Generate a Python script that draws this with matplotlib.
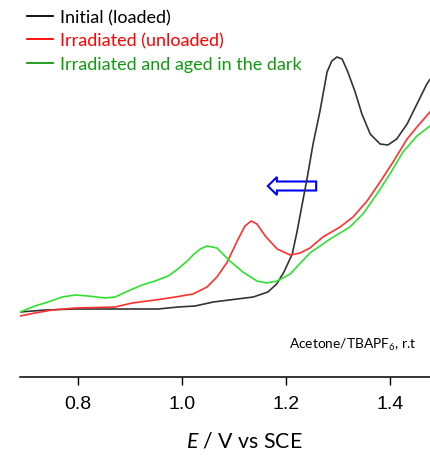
import matplotlib
matplotlib.use("Agg")
import matplotlib.pyplot as plt
from matplotlib.lines import Line2D
from matplotlib.patches import FancyArrow

plt.rcParams["font.family"] = "Lato"
plt.rcParams["mathtext.fontset"] = "custom"
plt.rcParams["mathtext.rm"] = "Lato"
plt.rcParams["mathtext.it"] = "Lato:italic"

# potential (V vs SCE) and current (arbitrary units)
initial_e = [0.688, 0.737, 0.794, 0.954, 0.992, 1.025, 1.060, 1.137, 1.165, 1.182,
             1.196, 1.212, 1.221, 1.233, 1.240, 1.252, 1.265, 1.279, 1.288, 1.298,
             1.308, 1.319, 1.333, 1.346, 1.362, 1.381, 1.396, 1.413, 1.433, 1.452,
             1.471, 1.479]
initial_i = [65, 67, 68, 68, 70, 71, 75, 80, 85, 93,
             105, 123, 145, 178, 197, 233, 265, 305, 316, 320,
             318, 305, 285, 263, 243, 233, 232, 238, 253, 273,
             293, 299]

irradiated_e = [0.688, 0.717, 0.750, 0.794, 0.871, 0.904, 0.948, 0.987, 1.021, 1.048,
                1.067, 1.087, 1.106, 1.121, 1.133, 1.144, 1.160, 1.183, 1.208, 1.227,
                1.246, 1.271, 1.304, 1.329, 1.356, 1.381, 1.406, 1.433, 1.452, 1.477]
irradiated_i = [61, 64, 67, 69, 70, 74, 77, 80, 83, 90,
                100, 115, 136, 151, 156, 153, 141, 128, 122, 124,
                129, 140, 150, 160, 176, 195, 215, 238, 250, 265]

aged_e = [0.688, 0.717, 0.742, 0.769, 0.794, 0.819, 0.852, 0.871, 0.896, 0.923,
          0.948, 0.973, 0.992, 1.010, 1.021, 1.035, 1.048, 1.067, 1.092, 1.117,
          1.144, 1.163, 1.183, 1.208, 1.246, 1.285, 1.323, 1.348, 1.375, 1.400,
          1.425, 1.452, 1.477]
aged_i = [65, 71, 75, 80, 82, 81, 79, 80, 86, 92,
          96, 101, 108, 116, 122, 128, 131, 129, 116, 105,
          96, 94, 96, 103, 124, 138, 150, 163, 183, 203,
          225, 241, 251]

labels = ["Initial (loaded)", "Irradiated (unloaded)", "Irradiated and aged in the dark"]
line_colors = ["#333333", "#ff3030", "#30e030"]
label_colors = ["black", "#ff0000", "#119911"]
xticks = [0.8, 1.0, 1.2, 1.4]

fig = plt.figure(figsize=(4.31, 4.60), dpi=100)
ax = fig.add_axes([20 / 431, 82 / 460, 411 / 431, 378 / 460])

ax.plot(initial_e, initial_i, color=line_colors[0], lw=1.2)
ax.plot(irradiated_e, irradiated_i, color=line_colors[1], lw=1.2)
ax.plot(aged_e, aged_i, color=line_colors[2], lw=1.2)

# hollow arrow showing the shift of the oxidation wave
ax.add_patch(FancyArrow(1.258, 191, -0.093, 0, width=9, head_width=18,
                        head_length=0.0175, length_includes_head=True,
                        fill=False, edgecolor="blue", lw=1.5, zorder=1))

ax.text(1.206, 33, r"Acetone/TBAPF$_{\mathrm{6}}$, r.t", fontsize=9.9,
        ha="left", va="center")

handles = [Line2D([], [], color=c, lw=1.3) for c in label_colors]
fig.legend(handles, labels, loc="upper left", bbox_to_anchor=(27 / 431, 1 - 10 / 460),
           frameon=False, fontsize=13, handlelength=1.44, handletextpad=0.39,
           labelspacing=0.415, borderpad=0, borderaxespad=0, labelcolor=label_colors)

ax.set_xlim(0.688, 1.479)
ax.set_ylim(0, 378)
ax.set_xticks(xticks)
ax.set_xticklabels([f"{t:.1f}" for t in xticks], family="Liberation Sans", fontsize=14)
ax.tick_params(axis="x", direction="out", length=6, width=1, pad=7)
ax.set_yticks([])
for side in ["top", "right", "left"]:
    ax.spines[side].set_visible(False)
ax.spines["bottom"].set_linewidth(1.1)
ax.set_xlabel(r"$E$ / V vs SCE", fontsize=15.3, va="center")
ax.xaxis.set_label_coords(0.545, -64 / 378)

fig.savefig("out.png", dpi=100)
